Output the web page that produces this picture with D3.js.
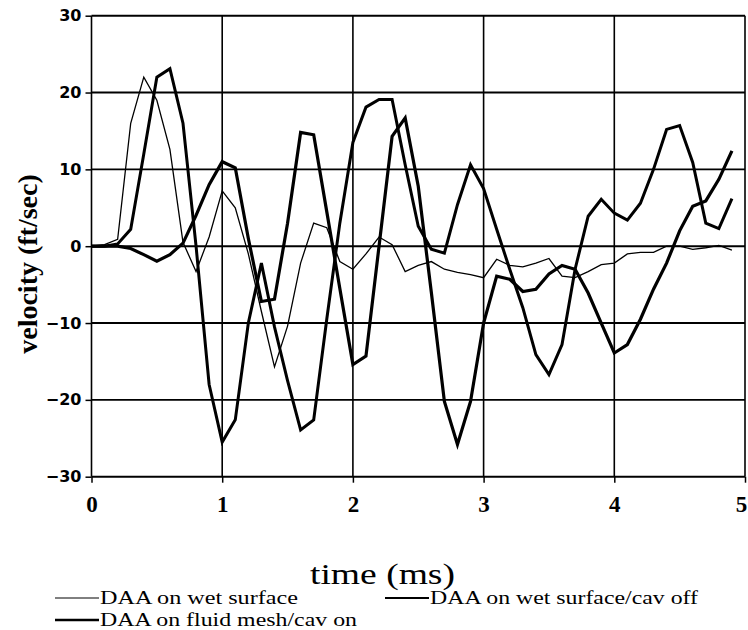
<!DOCTYPE html>
<html>
<head>
<meta charset="utf-8">
<script src="https://cdn.jsdelivr.net/npm/d3@7"></script>
<style>
  html, body { margin: 0; padding: 0; background: #fff; }
  svg { display: block; }
</style>
</head>
<body>
<svg id="chart" width="748" height="630"></svg>
<script>
// ---- data ----
const times = [0,0.1,0.2,0.3,0.4,0.5,0.6,0.7,0.8,0.9,1.0,1.1,1.2,1.3,1.4,1.5,1.6,1.7,1.8,1.9,
  2.0,2.1,2.2,2.3,2.4,2.5,2.6,2.7,2.8,2.9,3.0,3.1,3.2,3.3,3.4,3.5,3.6,3.7,3.8,3.9,
  4.0,4.1,4.2,4.3,4.4,4.5,4.6,4.7,4.8,4.9];

const wetSurface = [0,0.2,0.9,16,22,19,12.6,0.5,-3.3,1.2,7.2,5,-1,-8.5,-15.7,-10.4,-2.2,3,2.4,-2,
  -3,-1,1.2,0.2,-3.3,-2.5,-2,-3,-3.4,-3.7,-4.1,-1.7,-2.5,-2.7,-2.2,-1.6,-3.9,-4.1,-3.3,-2.4,
  -2.2,-1,-0.8,-0.8,0,0,-0.4,-0.2,0.1,-0.5];

const wetSurfaceCavOff = [0,0,0.3,2.2,12,22,23.1,16,0,-18,-25.5,-22.6,-10,-2.2,-10.5,-17.5,-23.9,-22.6,-9.5,3,
  13.5,18.1,19.1,19.1,10.6,2.6,-0.4,-0.9,5.4,10.6,7.5,2.2,-3,-8,-14.1,-16.7,-12.8,-3,3.9,6.1,
  4.3,3.4,5.6,10,15.2,15.7,10.9,3,2.3,6.2];

const fluidMeshCavOn = [0,0,0,-0.3,-1.1,-1.95,-1.1,0.4,4,8,11,10.2,1,-7.2,-6.9,3,14.8,14.5,4.5,-5.5,
  -15.4,-14.3,0,14.3,16.7,7.8,-6,-20.2,-25.8,-20.2,-10,-3.9,-4.3,-5.9,-5.6,-3.6,-2.5,-3,-6.1,-10,
  -13.9,-12.8,-9.5,-5.6,-2.2,2,5.2,5.9,8.7,12.4];

const xTicks = [0,1,2,3,4,5];
const yTicks = [-30,-20,-10,0,10,20,30];
const seriesNames = ["DAA on wet surface", "DAA on wet surface/cav off", "DAA on fluid mesh/cav on"];

// ---- layout ----
const svg = d3.select("#chart");
const pL = 91.5, pR = 745, pT = 15.7, pB = 476.7;
const x = d3.scaleLinear().domain([0,5]).range([pL, pR]);
const y = d3.scaleLinear().domain([-30,30]).range([pB, pT]);
const serif = "'Liberation Serif', 'Times New Roman', serif";

// gridlines
svg.append("g").selectAll("line").data(xTicks).join("line")
  .attr("x1", d => x(d)).attr("x2", d => x(d))
  .attr("y1", pT).attr("y2", pB)
  .attr("stroke", "#000").attr("stroke-width", 1.6);
svg.append("g").selectAll("line").data(yTicks).join("line")
  .attr("x1", pL).attr("x2", pR)
  .attr("y1", d => y(d)).attr("y2", d => y(d))
  .attr("stroke", "#000").attr("stroke-width", 1.9);

// axes
const xAxis = d3.axisBottom(x).tickValues(xTicks).tickSize(6).tickPadding(13).tickFormat(d3.format("d"));
const gx = svg.append("g").attr("transform", `translate(0,${pB})`).call(xAxis);
gx.select(".domain").remove();
gx.selectAll("line").attr("stroke", "#000").attr("stroke-width", 1.5);
gx.selectAll("text").attr("font-family", serif).attr("font-weight", "bold")
  .attr("font-size", 23).attr("fill", "#000")
  .attr("dx", d => d === 5 ? -4 : 0);

const yAxis = d3.axisLeft(y).tickValues(yTicks).tickSize(6).tickPadding(4).tickFormat(d3.format("d"));
const gy = svg.append("g").attr("transform", `translate(${pL},0)`).call(yAxis);
gy.select(".domain").remove();
gy.selectAll("line").attr("stroke", "#000").attr("stroke-width", 1.5);
gy.selectAll("text").attr("font-family", "'DejaVu Sans', sans-serif").attr("font-weight", "bold")
  .attr("font-size", 16).attr("fill", "#000");

// axis titles
svg.append("text")
  .attr("transform", `translate(37,264) rotate(-90)`)
  .attr("text-anchor", "middle")
  .attr("font-family", serif).attr("font-weight", "bold")
  .attr("font-size", 28).attr("fill", "#000")
  .text("velocity (ft/sec)");
svg.append("text")
  .attr("x", 310).attr("y", 584)
  .attr("font-family", serif)
  .attr("font-size", 30).attr("fill", "#000")
  .attr("textLength", 145).attr("lengthAdjust", "spacingAndGlyphs")
  .text("time (ms)");

// series
const allSeries = [
  { name: seriesNames[0], values: wetSurface, width: 1.3 },
  { name: seriesNames[1], values: wetSurfaceCavOff, width: 3 },
  { name: seriesNames[2], values: fluidMeshCavOn, width: 3.2 }
];
const line = d3.line().x((d, i) => x(times[i])).y(d => y(d));
svg.append("g").selectAll("path").data(allSeries).join("path")
  .attr("d", s => line(s.values))
  .attr("fill", "none").attr("stroke", "#000")
  .attr("stroke-width", s => s.width)
  .attr("stroke-linejoin", "miter");

// legend
const legendPos = [[55, 598], [385, 598], [55, 620]];
const legendWidths = [1, 2, 2.6];
const legendTextLen = [198, 268, 257];
const lg = svg.append("g").selectAll("g").data(allSeries).join("g")
  .attr("transform", (d, i) => `translate(${legendPos[i][0]},${legendPos[i][1]})`);
lg.append("line").attr("x1", 0).attr("x2", 44).attr("y1", 0).attr("y2", 0)
  .attr("stroke", "#000").attr("stroke-width", (d, i) => legendWidths[i]);
lg.append("text").attr("x", 45).attr("y", 6)
  .attr("font-family", serif).attr("font-size", 19)
  .attr("textLength", (d, i) => legendTextLen[i]).attr("lengthAdjust", "spacingAndGlyphs")
  .attr("fill", "#000")
  .text(d => d.name);
</script>
</body>
</html>
